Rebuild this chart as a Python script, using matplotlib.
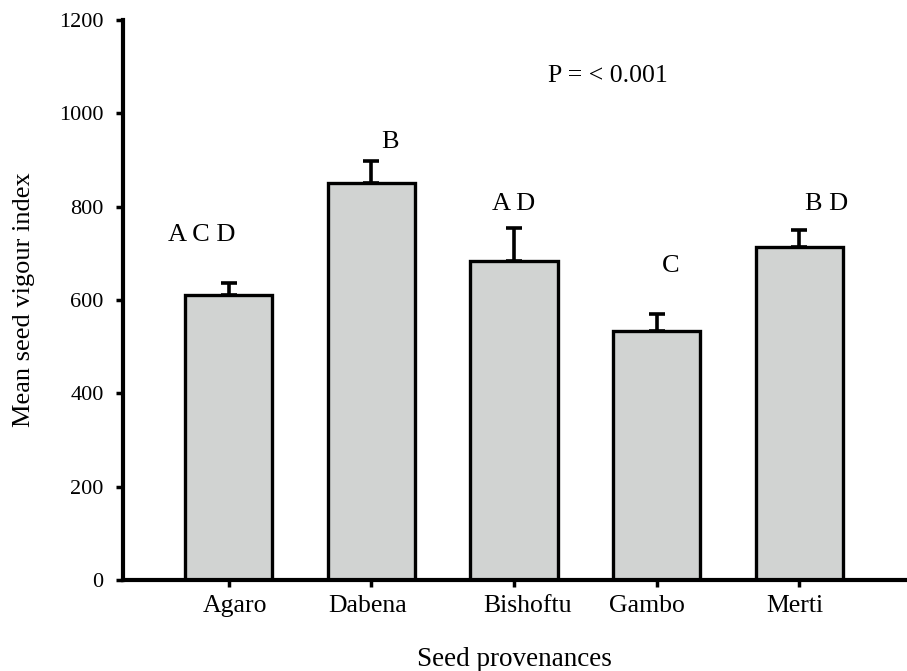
import matplotlib
matplotlib.use("Agg")
import matplotlib.pyplot as plt
import matplotlib.transforms as mtransforms
import numpy as np

# data
provenances = ["Agaro", "Dabena", "Bishoftu", "Gambo", "Merti"]
mean_vigour = [610, 851, 684, 534, 713]
upper_err = [27, 47, 71, 37, 37]
letters = ["A C D", "B", "A D", "C", "B D"]
letter_x = [-0.19, 1.13, 2.0, 3.1, 4.19]
letter_y = [727, 926, 793, 661, 793]
# the tick labels are not quite centred on their ticks in the original (px)
label_shift = [6, -4, 14, -10, -5]

plt.rcParams['font.family'] = ['Liberation Serif', 'DejaVu Serif']

fig = plt.figure(figsize=(9.07, 6.71), dpi=100)
ax = fig.add_axes([0.1356, 0.1356, 0.8622, 0.8346])

x = np.arange(len(provenances))
ax.errorbar(x, mean_vigour, yerr=[np.zeros(len(x)), upper_err], fmt='none',
            ecolor='black', elinewidth=2.6, capsize=5.5, capthick=2.6, zorder=1)
ax.bar(x, mean_vigour, width=0.61, color='#d1d3d2', edgecolor='black',
       linewidth=2.4, zorder=2)

for lx, ly, s in zip(letter_x, letter_y, letters):
    ax.text(lx, ly, s, ha='center', va='baseline', fontsize=19)

ax.text(2.66, 1081, "P = < 0.001", ha='center', va='center', fontsize=18.5)

ax.set_xlim(-0.74, 4.74)
ax.set_ylim(0, 1200)
ax.set_yticks(range(0, 1201, 200))
ax.set_xticks(x)
ax.set_xticklabels(provenances)

for side in ['top', 'right']:
    ax.spines[side].set_visible(False)
for side in ['left', 'bottom']:
    ax.spines[side].set_linewidth(3)

ax.tick_params(axis='both', direction='out', length=5, width=2.5)
ax.tick_params(axis='y', pad=9, labelsize=16)
ax.tick_params(axis='x', pad=6, labelsize=18.5)

for lab, dx in zip(ax.get_xticklabels(), label_shift):
    lab.set_transform(lab.get_transform() +
                      mtransforms.ScaledTranslation(dx / 100, 0, fig.dpi_scale_trans))

ax.set_xlabel("Seed provenances", fontsize=19.5)
ax.xaxis.set_label_coords(0.5, -0.12)
ax.set_ylabel("Mean seed vigour index", fontsize=19)
ax.yaxis.set_label_coords(-0.112, 0.5)

fig.savefig("out.png", dpi=100)
